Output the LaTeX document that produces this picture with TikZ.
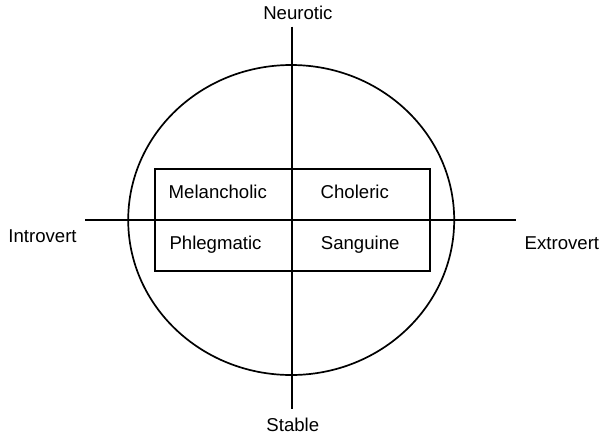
\documentclass[tikz,border=0pt]{standalone}
\usepackage{fontspec}
\setmainfont{Liberation Sans}
\usetikzlibrary{shapes.geometric}
\begin{document}
\begin{tikzpicture}[x=1pt,y=-1pt,
  lbl/.style={inner sep=0pt,font=\fontsize{18.6}{22}\selectfont},
  ln/.style={line width=1.7pt,black}]
\useasboundingbox (0,0) rectangle (601,437);
\node[ellipse,draw,ln,minimum width=326pt,minimum height=310pt,inner sep=0pt] (circ) at (291.2,220) {};
\node[rectangle,draw,ln,minimum width=275.3pt,minimum height=102pt,inner sep=0pt] (box) at (292.35,220) {};
\coordinate (top) at (292.3,26.7);
\coordinate (bot) at (292.3,409.3);
\coordinate (lft) at (85.3,220);
\coordinate (rgt) at (516,220);
\draw[ln] (top) -- (bot);
\draw[ln] (lft) -- (rgt);
\node[lbl,anchor=base] (neur) at (297.9,19.3) {Neurotic};
\node[lbl,anchor=base] (stab) at (292.8,431.5) {Stable};
\node[lbl,anchor=base west] (intro) at (8.2,242.7) {Introvert};
\node[lbl,anchor=base west] (extro) at (524.5,249.3) {Extrovert};
\node[lbl,anchor=base west] (mel) at (168.5,198.3) {Melancholic};
\node[lbl,anchor=base west] (cho) at (320.5,198.3) {Choleric};
\node[lbl,anchor=base west] (phl) at (169.3,249.5) {Phlegmatic};
\node[lbl,anchor=base west] (san) at (320.7,249.5) {Sanguine};
\end{tikzpicture}
\end{document}
